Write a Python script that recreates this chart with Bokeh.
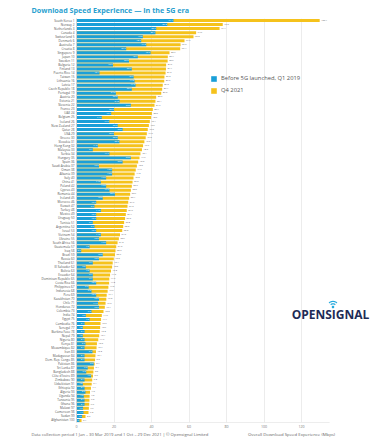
import numpy as np
from bokeh.plotting import figure
from bokeh.layouts import column
from bokeh.models import (ColumnDataSource, FactorRange, Range1d, LabelSet, Label, Legend, LegendItem,
                          FixedTicker, PolyAnnotation)
from bokeh.transform import dodge
from bokeh.embed import file_html
from bokeh.resources import INLINE

countries = [
    "South Korea", "Norway", "Netherlands", "Canada", "Switzerland", "Denmark", "Australia", "Croatia",
    "Singapore", "Japan", "Sweden", "Bulgaria", "Finland", "Puerto Rico", "Taiwan", "Lithuania",
    "Latvia", "Czech Republic", "Portugal", "Austria", "Estonia", "Slovenia", "France", "UAE",
    "Belgium", "Iceland", "New Zealand", "Qatar", "USA", "Greece", "Slovakia", "Hong Kong",
    "Malaysia", "Serbia", "Hungary", "Spain", "Saudi Arabia", "Oman", "Albania", "Italy",
    "China", "Poland", "Cyprus", "Romania", "Ireland", "Morocco", "Kuwait", "Turkey",
    "Mexico", "Uruguay", "Tunisia", "Argentina", "Israel", "Vietnam", "Ukraine", "South Africa",
    "Guatemala", "Iraq", "Brazil", "Russia", "Thailand", "El Salvador", "Bolivia", "Ecuador",
    "Dominican Republic", "Costa Rica", "Philippines", "Indonesia", "Peru", "Kazakhstan", "Chile", "Honduras",
    "Colombia", "India", "Egypt", "Cambodia", "Senegal", "Burkina Faso", "Nepal", "Nigeria",
    "Kenya", "Mozambique", "Iran", "Madagascar", "Dem. Rep. Congo", "Pakistan", "Sri Lanka", "Bangladesh",
    "Côte d'Ivoire", "Zimbabwe", "Uzbekistan", "Ethiopia", "Algeria", "Uganda", "Tanzania",
    "Ghana", "Malawi", "Cameroon", "Sudan", "Afghanistan",
]

q1_2019 = [
    51.7, 48.4, 42.5, 42.1, 35.4, 34.5, 37.2, 26.5, 39.5, 32.7,
    28.0, 19.5, 29.5, 12.3, 30.5, 31.0, 31.5, 29.5, 21.0, 22.0,
    23.0, 29.0, 20.0, 18.5, 13.5, 17.5, 22.0, 24.6, 20.0, 22.0,
    22.9, 11.4, 8.7, 17.6, 29.0, 24.6, 12.0, 19.0, 19.0, 15.8,
    13.0, 15.8, 17.6, 20.5, 14.0, 10.5, 9.6, 13.0, 10.5, 10.5,
    8.7, 9.6, 10.5, 13.0, 12.0, 15.8, 7.0, 2.5, 14.0, 12.0,
    8.7, 5.0, 7.0, 8.7, 8.7, 10.5, 6.5, 8.0, 10.5, 12.0,
    11.5, 12.0, 8.0, 5.0, 7.0, 4.3, 3.4, 4.3, 3.4, 4.3,
    4.8, 4.3, 8.5, 4.3, 4.3, 9.2, 6.0, 5.2, 7.8, 4.3,
    3.4, 4.3, 4.8, 3.9, 4.3, 4.3, 3.5, 3.7, 3.0, 1.6,
]

q4_2021 = [
    129.7, 78.0, 76.3, 63.8, 62.4, 57.6, 55.5, 55.3, 49.6, 48.7,
    48.6, 47.8, 47.7, 47.5, 46.9, 46.8, 46.0, 45.7, 45.2, 42.5,
    42.1, 41.6, 40.7, 40.2, 39.8, 39.1, 38.6, 38.0, 37.5, 36.9,
    36.2, 35.5, 34.9, 34.1, 33.6, 32.9, 32.2, 31.6, 31.0, 30.4,
    29.9, 29.5, 29.0, 28.6, 28.1, 27.6, 27.2, 26.8, 26.3, 25.9,
    25.4, 24.9, 24.4, 23.2, 22.6, 21.9, 21.2, 20.8, 20.5, 19.9,
    19.3, 19.0, 18.4, 17.9, 17.5, 17.4, 17.0, 16.6, 16.1, 15.9,
    15.5, 15.1, 14.4, 13.5, 13.1, 12.8, 12.6, 12.4, 12.1, 11.6,
    10.9, 10.7, 10.4, 10.1, 9.9, 9.7, 9.3, 9.0, 8.8, 8.4,
    8.1, 7.7, 7.2, 7.0, 6.9, 6.8, 6.6, 6.4, 4.8, 2.7,
]

x_ticks = [0, 20, 40, 60, 80, 100, 120]
axis_end = 135

n = min(len(countries), len(q1_2019), len(q4_2021))
labels = [f"{countries[i]} {i + 1}" for i in range(n)]

src = ColumnDataSource(data=dict(
    label=labels,
    q1=q1_2019[:n],
    q4=q4_2021[:n],
    q1_txt=[f"{v:.1f}" for v in q1_2019[:n]],
    q4_txt=[f"{v:.1f}" for v in q4_2021[:n]],
))

W, H, HF = 382, 431, 12
FL, FR, FT, FB = 77, 4, 15, 8
PX_PER_UNIT = 1.875
BLUE = "#1a9fd8"
YELLOW = "#f5c21c"
FONT = "Open Sans"

x_max = (W - FL - FR) / PX_PER_UNIT

p = figure(width=W, height=H,
           y_range=FactorRange(factors=labels[::-1], range_padding=0),
           x_range=Range1d(0, x_max),
           output_backend="svg", toolbar_location=None,
           min_border_left=FL, min_border_right=FR, min_border_top=FT, min_border_bottom=FB)
p.outline_line_color = None
p.background_fill_color = "white"
p.border_fill_color = "white"

p.title.text = "Download Speed Experience \u2014 In the 5G era"
p.title.text_font = FONT
p.title.text_font_size = "7.2px"
p.title.text_font_style = "bold"
p.title.text_color = "#2a9fcf"
p.title.align = "left"
p.title.offset = 32 - FL
p.title.standoff = 7

r_q4 = p.hbar(y="label", right="q4", left=0, height=0.74, source=src,
              fill_color=YELLOW, line_color=None)
r_q1 = p.hbar(y="label", right="q1", left=0, height=0.74, source=src,
              fill_color=BLUE, line_color=None)

base = ColumnDataSource(data=dict(y=[labels[-1]], x0=[0], x1=[axis_end]))
p.segment(x0="x0", x1="x1", y0=dodge("y", -0.5, range=p.y_range), y1=dodge("y", -0.5, range=p.y_range),
          source=base, line_color="#dcdcdc", line_width=1)

p.add_layout(LabelSet(x="q1", y="label", text="q1_txt", source=src, x_offset=-0.5,
                      text_align="right", text_baseline="middle", text_font=FONT,
                      text_font_size="2.6px", text_color="white"))
p.add_layout(LabelSet(x="q4", y="label", text="q4_txt", source=src, x_offset=1.5,
                      text_align="left", text_baseline="middle", text_font=FONT,
                      text_font_size="2.6px", text_color="#666666"))

p.xaxis.ticker = FixedTicker(ticks=x_ticks)
p.xaxis.major_label_text_font_size = "3.6px"
p.xaxis.major_label_text_color = "#777777"
p.xaxis.major_label_text_font = FONT
p.xaxis.major_tick_line_color = None
p.xaxis.major_tick_out = 0
p.xaxis.minor_tick_line_color = None
p.xaxis.axis_line_color = None
p.xaxis.major_label_standoff = 2

p.yaxis.major_label_text_font_size = "3.1px"
p.yaxis.major_label_text_color = "#555555"
p.yaxis.major_label_text_font = FONT
p.yaxis.major_tick_line_color = None
p.yaxis.major_tick_out = 0
p.yaxis.minor_tick_line_color = None
p.yaxis.axis_line_color = "#d0d0d0"
p.yaxis.major_label_standoff = 2

p.xgrid.grid_line_color = "#ececec"
p.ygrid.grid_line_color = None

legend = Legend(items=[LegendItem(label="Before 5G launched, Q1 2019", renderers=[r_q1]),
                       LegendItem(label="Q4 2021", renderers=[r_q4])],
                location=(134, 328), orientation="vertical",
                glyph_width=7, glyph_height=7, label_height=7, spacing=4,
                label_text_font=FONT, label_text_font_size="5.8px", label_text_color="#555555",
                label_standoff=4, padding=0, margin=0,
                border_line_color=None, background_fill_alpha=0)
p.add_layout(legend)

# Opensignal logo (inside frame area)
p.add_layout(Label(x=331, y=315, x_units="canvas", y_units="canvas", text="OPENSIGNAL",
                   text_font=FONT, text_font_size="12px", text_font_style="bold",
                   text_color="#1e2b56", text_align="center", text_baseline="middle"))
cx, cy = 333.5, 307.5
ang = np.linspace(np.pi * 0.25, np.pi * 0.75, 16)
for r0, r1 in [(0.0, 1.3), (2.6, 3.8), (5.0, 6.2)]:
    if r0 == 0:
        t = np.linspace(0, 2 * np.pi, 16)
        xs = list(cx + r1 * np.cos(t))
        ys = list(cy - r1 * np.sin(t))
    else:
        xs = list(cx + r1 * np.cos(ang)) + list(cx + r0 * np.cos(ang[::-1]))
        ys = list(cy - r1 * np.sin(ang)) + list(cy - r0 * np.sin(ang[::-1]))
    p.add_layout(PolyAnnotation(xs=xs, ys=ys, xs_units="canvas", ys_units="canvas",
                                fill_color="#25a9dc", fill_alpha=1, line_color=None))

# footer strip
foot = figure(width=W, height=HF, x_range=Range1d(0, W), y_range=Range1d(HF, 0),
              output_backend="svg", toolbar_location=None, min_border=0,
              x_axis_type=None, y_axis_type=None)
foot.outline_line_color = None
foot.add_layout(Label(x=32, y=4, x_units="canvas", y_units="canvas",
                      text="Data collection period 1 Jan \u2013 30 Mar 2019 and 1 Oct \u2013 29 Dec 2021 | \u00a9 Opensignal Limited",
                      text_font=FONT, text_font_size="4.2px", text_color="#666666",
                      text_align="left", text_baseline="middle"))
foot.add_layout(Label(x=292, y=3, x_units="canvas", y_units="canvas",
                      text="Overall Download Speed Experience (Mbps)",
                      text_font=FONT, text_font_size="4.3px", text_color="#666666",
                      text_align="center", text_baseline="middle"))

for fig in (p, foot):
    try:
        fig.frame_align = False
    except AttributeError:
        pass

layout = column(p, foot, spacing=0)
layout.margin = (-1, 0, 0, -1)

open("out.html", "w").write(file_html(layout, INLINE))
